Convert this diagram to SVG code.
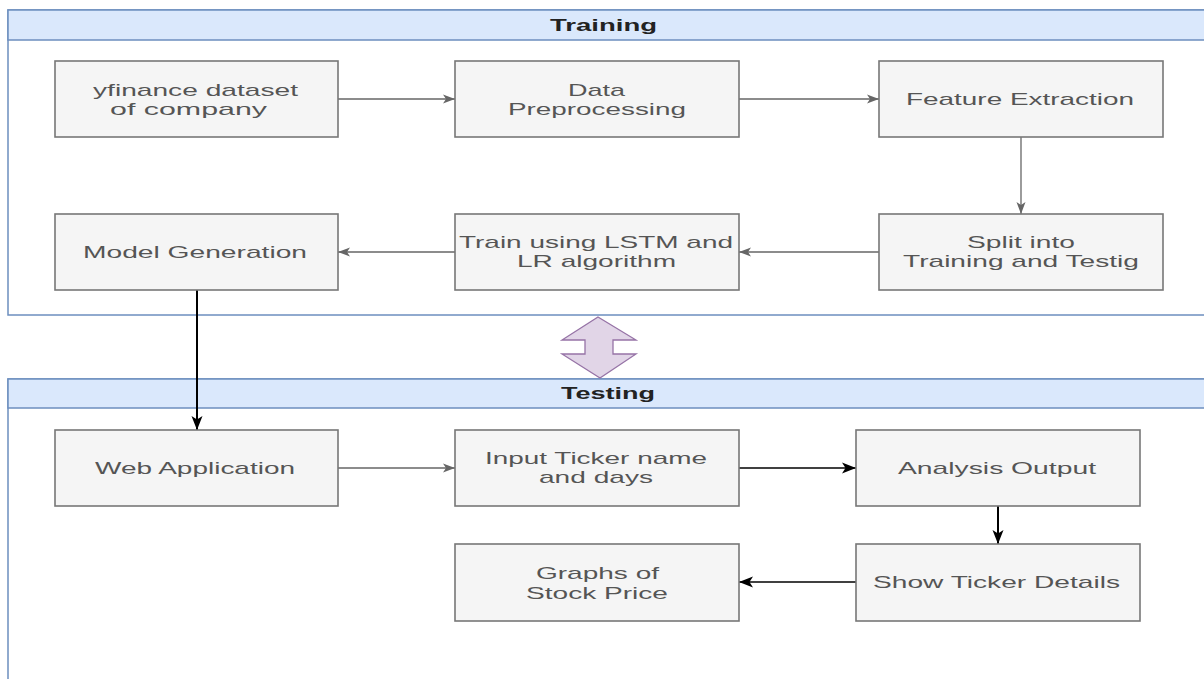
<svg xmlns="http://www.w3.org/2000/svg" width="1204" height="679" viewBox="0 0 1204 679">
<style>
.cont{fill:#ffffff;stroke:#6c8ebf;stroke-width:1.5}
.hdr{fill:#dae8fc;stroke:#6c8ebf;stroke-width:1.5}
.ht{font-family:"Liberation Sans",Arial,sans-serif;font-size:16px;font-weight:bold;fill:#222}
.box{fill:#f5f5f5;stroke:#777;stroke-width:1.6}
.t{font-family:"Liberation Sans",Arial,sans-serif;font-size:17px;fill:#555;text-anchor:start}
.g{fill:none;stroke:#666;stroke-width:1.3}
.k{fill:none;stroke:#000;stroke-width:1.5}
.k2{fill:none;stroke:#000;stroke-width:2}
</style>
<defs>
<marker id="ag" markerUnits="userSpaceOnUse" markerWidth="14" markerHeight="10" refX="12" refY="5" orient="auto">
<path d="M0,0.5 L12,5 L0,9.5 L3,5 Z" fill="#666"/>
</marker>
<marker id="ak" markerUnits="userSpaceOnUse" markerWidth="16" markerHeight="12" refX="14" refY="6" orient="auto">
<path d="M0,0.5 L14,6 L0,11.5 L3.5,6 Z" fill="#000"/>
</marker>
</defs>
<rect width="1204" height="679" fill="#ffffff"/>
<g id="training">
<rect class="cont" x="8" y="10" width="1200" height="305"/>
<rect class="hdr" x="8" y="10" width="1200" height="30"/>
<text class="ht" x="550" y="31" textLength="107" lengthAdjust="spacingAndGlyphs">Training</text>
</g>
<g id="testing">
<rect class="cont" x="8" y="379" width="1200" height="310"/>
<rect class="hdr" x="8" y="379" width="1200" height="29"/>
<text class="ht" x="561" y="399" textLength="94" lengthAdjust="spacingAndGlyphs">Testing</text>
</g>
<g id="swap">
<path d="M598,317 L636,340 L613,340 L613,354 L636,354 L600,378 L562,354 L585,354 L585,340 L562,340 Z" fill="#e1d5e7" stroke="#9673a6" stroke-width="1.3"/>
</g>
<g id="connectors">
<line class="g" x1="338" y1="99" x2="455" y2="99" marker-end="url(#ag)"/>
<line class="g" x1="739" y1="99" x2="879" y2="99" marker-end="url(#ag)"/>
<line class="g" x1="1021" y1="137" x2="1021" y2="214" marker-end="url(#ag)"/>
<line class="g" x1="879" y1="252" x2="739" y2="252" marker-end="url(#ag)"/>
<line class="g" x1="455" y1="252" x2="338" y2="252" marker-end="url(#ag)"/>
<line class="k2" x1="197" y1="290" x2="197" y2="430" marker-end="url(#ak)"/>
<line class="g" x1="338" y1="468" x2="455" y2="468" marker-end="url(#ag)"/>
<line class="k" x1="739" y1="468" x2="856" y2="468" marker-end="url(#ak)"/>
<line class="k2" x1="998" y1="506" x2="998" y2="544" marker-end="url(#ak)"/>
<line class="k" x1="856" y1="582" x2="739" y2="582" marker-end="url(#ak)"/>
</g>
<g id="n1">
<rect class="box" x="55" y="61" width="283" height="76"/>
<text class="t" x="93" y="96" textLength="205" lengthAdjust="spacingAndGlyphs">yfinance dataset</text>
<text class="t" x="110" y="115" textLength="157" lengthAdjust="spacingAndGlyphs">of company</text>
</g>
<g id="n2">
<rect class="box" x="455" y="61" width="284" height="76"/>
<text class="t" x="568" y="96" textLength="57" lengthAdjust="spacingAndGlyphs">Data</text>
<text class="t" x="508" y="115" textLength="178" lengthAdjust="spacingAndGlyphs">Preprocessing</text>
</g>
<g id="n3">
<rect class="box" x="879" y="61" width="284" height="76"/>
<text class="t" x="906" y="105" textLength="228" lengthAdjust="spacingAndGlyphs">Feature Extraction</text>
</g>
<g id="n4">
<rect class="box" x="879" y="214" width="284" height="76"/>
<text class="t" x="967" y="248" textLength="108" lengthAdjust="spacingAndGlyphs">Split into</text>
<text class="t" x="903" y="267" textLength="236" lengthAdjust="spacingAndGlyphs">Training and Testig</text>
</g>
<g id="n5">
<rect class="box" x="455" y="214" width="284" height="76"/>
<text class="t" x="459" y="248" textLength="274" lengthAdjust="spacingAndGlyphs">Train using LSTM and</text>
<text class="t" x="517" y="267" textLength="159" lengthAdjust="spacingAndGlyphs">LR algorithm</text>
</g>
<g id="n6">
<rect class="box" x="55" y="214" width="283" height="76"/>
<text class="t" x="83" y="258" textLength="224" lengthAdjust="spacingAndGlyphs">Model Generation</text>
</g>
<g id="n7">
<rect class="box" x="55" y="430" width="283" height="76"/>
<text class="t" x="95" y="474" textLength="200" lengthAdjust="spacingAndGlyphs">Web Application</text>
</g>
<g id="n8">
<rect class="box" x="455" y="430" width="284" height="76"/>
<text class="t" x="485" y="464" textLength="222" lengthAdjust="spacingAndGlyphs">Input Ticker name</text>
<text class="t" x="539" y="483" textLength="114" lengthAdjust="spacingAndGlyphs">and days</text>
</g>
<g id="n9">
<rect class="box" x="856" y="430" width="284" height="76"/>
<text class="t" x="898" y="474" textLength="198" lengthAdjust="spacingAndGlyphs">Analysis Output</text>
</g>
<g id="n10">
<rect class="box" x="856" y="544" width="284" height="77"/>
<text class="t" x="873" y="588" textLength="247" lengthAdjust="spacingAndGlyphs">Show Ticker Details</text>
</g>
<g id="n11">
<rect class="box" x="455" y="544" width="284" height="77"/>
<text class="t" x="536" y="579" textLength="123" lengthAdjust="spacingAndGlyphs">Graphs of</text>
<text class="t" x="526" y="599" textLength="142" lengthAdjust="spacingAndGlyphs">Stock Price</text>
</g>
</svg>
